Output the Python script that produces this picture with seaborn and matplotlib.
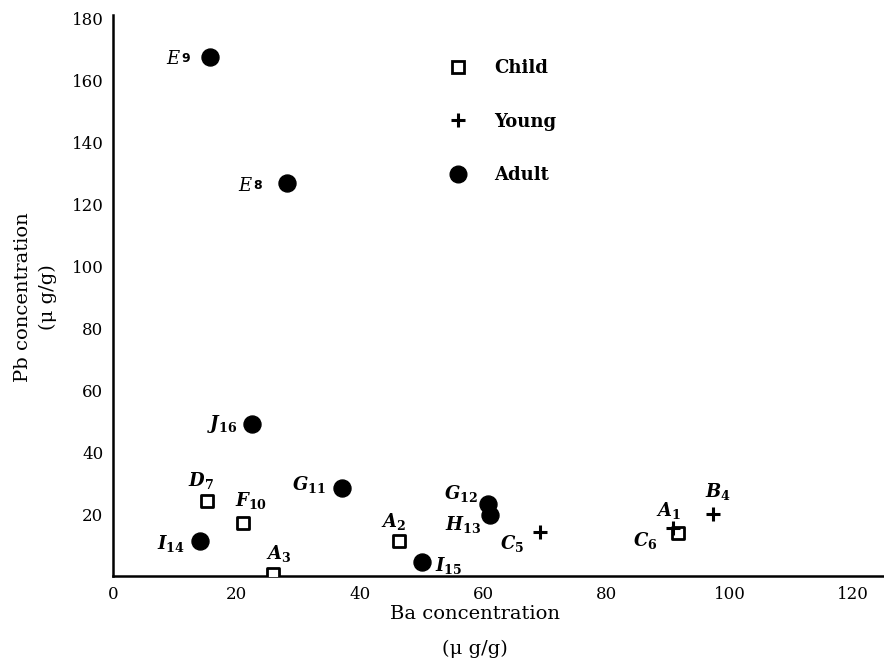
import matplotlib
matplotlib.use("Agg")
import matplotlib.pyplot as plt
import seaborn as sns
import pandas as pd
from matplotlib.lines import Line2D

sns.set_theme(style="white")
plt.rcParams['font.family'] = ['DejaVu Serif']
plt.rcParams['text.color'] = 'black'
plt.rcParams['axes.labelcolor'] = 'black'
plt.rcParams['xtick.color'] = 'black'
plt.rcParams['ytick.color'] = 'black'
plt.rcParams['mathtext.fontset'] = 'custom'
plt.rcParams['mathtext.rm'] = 'DejaVu Serif:bold'
plt.rcParams['mathtext.it'] = 'DejaVu Serif:italic:bold'
plt.rcParams['mathtext.bf'] = 'DejaVu Serif:bold'

# ---- data ----
child_ba = [91.6, 46.4, 25.9, 15.2, 21.1]
child_pb = [13.8, 11.2, 0.6, 24.4, 17.3]
child_lab = ["A_1", "A_2", "A_3", "D_7", "F_{10}"]

young_ba = [97.2, 69.2, 90.8]
young_pb = [20.2, 14.4, 15.7]
young_lab = ["B_4", "C_5", "C_6"]

adult_ba = [28.2, 15.7, 37.1, 60.8, 61.1, 14.1, 50.1, 22.5]
adult_pb = [127.0, 167.6, 28.5, 23.4, 19.9, 11.5, 4.5, 49.0]
adult_lab = ["E8", "E9", "G_{11}", "G_{12}", "H_{13}", "I_{14}", "I_{15}", "J_{16}"]

groups = ["Child", "Young", "Adult"]
x_ticks = [0, 20, 40, 60, 80, 100, 120]
y_ticks = [20, 40, 60, 80, 100, 120, 140, 160, 180]

df = pd.DataFrame({
    "Ba": child_ba + young_ba + adult_ba,
    "Pb": child_pb + young_pb + adult_pb,
    "label": child_lab + young_lab + adult_lab,
    "group": ["Child"] * len(child_ba) + ["Young"] * len(young_ba) + ["Adult"] * len(adult_ba),
})

fig = plt.figure(figsize=(8.84, 6.6), dpi=100)
ax = fig.add_axes([0.128, 0.127, 0.872, 0.85])

sns.scatterplot(data=df[df.group == "Child"], x="Ba", y="Pb", marker="s", s=70,
                facecolor="white", edgecolor="black", linewidth=2, ax=ax, zorder=3)
sns.scatterplot(data=df[df.group == "Young"], x="Ba", y="Pb", marker="+", s=110,
                color="black", linewidth=2.2, ax=ax, zorder=3)
sns.scatterplot(data=df[df.group == "Adult"], x="Ba", y="Pb", marker="o", s=150,
                color="black", edgecolor="black", ax=ax, zorder=3)

# label offsets (pixels)
offsets = {
    "A_1": (-10, 23), "A_2": (-6, 20), "A_3": (6, 21), "D_7": (-6, 20), "F_{10}": (8, 22),
    "B_4": (5, 22), "C_5": (-28, -12), "C_6": (-28, -13),
    "E8": (-37, -3), "E9": (-32, -2), "G_{11}": (-33, 3), "G_{12}": (-27, 10),
    "H_{13}": (-27, -10), "I_{14}": (-29, -3), "I_{15}": (27, -3), "J_{16}": (-30, 0),
}
for _, r in df.iterrows():
    lab = r["label"]
    dx, dy = offsets[lab]
    if lab in ("E8", "E9"):
        ax.annotate("E", (r.Ba, r.Pb), xytext=(dx - 5, dy), textcoords="offset pixels",
                    ha="center", va="center", fontsize=13, fontstyle="italic", fontweight="normal")
        ax.annotate(lab[1], (r.Ba, r.Pb), xytext=(dx + 8, dy), textcoords="offset pixels",
                    ha="center", va="center", fontsize=9, fontweight="bold", family="DejaVu Sans")
    else:
        base, sub = lab.split("_")
        sub = sub.strip("{}")
        txt = "$" + base + r"_{\mathit{" + sub + "}}$"
        ax.annotate(txt, (r.Ba, r.Pb), xytext=(dx, dy), textcoords="offset pixels",
                    ha="center", va="center", fontsize=13)

ax.set_xlim(0, 125)
ax.set_ylim(0, 181)
ax.set_xticks(list(range(0, 130, 10)))
ax.set_xticklabels([str(v) if v in x_ticks else "" for v in range(0, 130, 10)], fontsize=12)
ax.set_yticks(y_ticks)
ax.set_yticklabels([str(v) for v in y_ticks], fontsize=12)
ax.tick_params(direction="in", length=6, width=1.3, colors="black", pad=7)
for side in ("top", "right"):
    ax.spines[side].set_visible(False)
for side in ("left", "bottom"):
    ax.spines[side].set_color("black")
    ax.spines[side].set_linewidth(1.8)

ax.set_xlabel("")
ax.set_ylabel("")
fig.text(0.040, 0.55, "Pb concentration\n(μ g/g)", rotation=90, ha="center", va="center",
         fontsize=14, linespacing=1.5)
fig.text(0.537, 0.070, "Ba concentration", ha="center", va="center", fontsize=14)
fig.text(0.537, 0.017, "(μ g/g)", ha="center", va="center", fontsize=14)

# legend
handles = [
    Line2D([], [], marker="s", linestyle="", markersize=8, markerfacecolor="white",
           markeredgecolor="black", markeredgewidth=2),
    Line2D([], [], marker="+", linestyle="", markersize=10, color="black", markeredgewidth=2.2),
    Line2D([], [], marker="o", linestyle="", markersize=12, color="black"),
]
leg = ax.legend(handles, groups, loc="upper left", bbox_to_anchor=(0.403, 0.950),
                frameon=False, labelspacing=1.95, handletextpad=1.0,
                prop={"family": "DejaVu Serif", "weight": "bold", "size": 13})

fig.savefig("out.png", dpi=100)
